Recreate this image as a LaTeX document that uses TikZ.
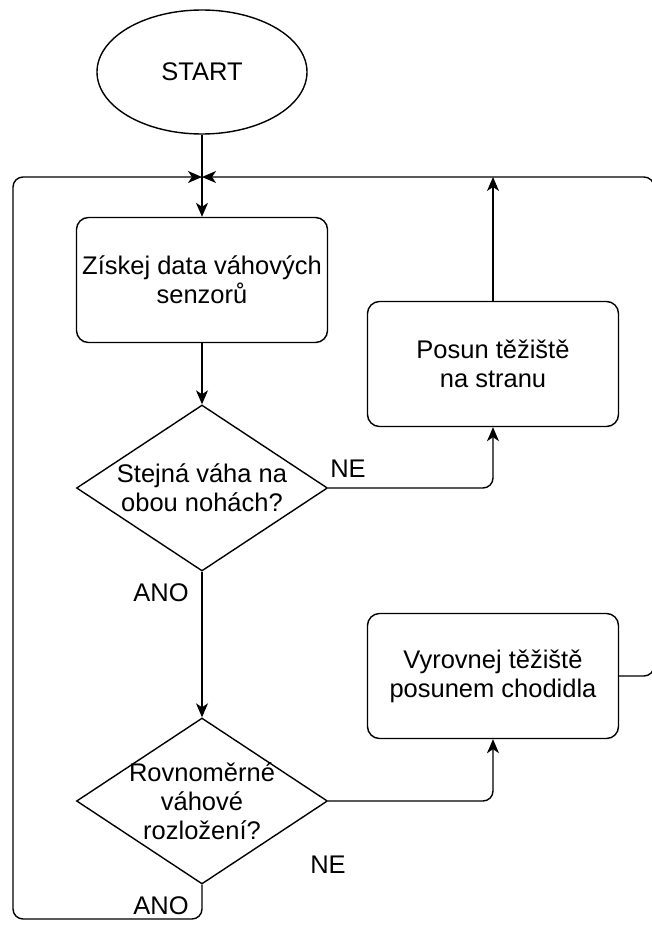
\documentclass[tikz,border=0pt]{standalone}
\usepackage{fontspec}
\setmainfont{Liberation Sans}
\usetikzlibrary{shapes.geometric,arrows.meta}
\begin{document}
\begin{tikzpicture}[x=1pt,y=-1pt,
  every node/.style={font=\fontsize{25.5}{29}\selectfont, align=center, inner sep=0pt},
  flow/.style={line width=1.4pt, rounded corners=10pt},
  arr/.style={flow, -{Stealth[length=14pt,width=12pt,inset=4pt]}},
  terminal/.style={draw, ellipse, line width=1.4pt, minimum width=210pt, minimum height=124pt},
  process/.style={draw, rectangle, rounded corners=12pt, line width=1.4pt, minimum width=251pt, minimum height=125pt},
  decision/.style={draw, diamond, line width=1.4pt, minimum width=251pt, minimum height=166pt},
  ]
\useasboundingbox (0,0) rectangle (651,926);

% shapes
\node[terminal] (start) at (202,72) {START};
\node[process] (get) at (202,280) {Získej data váhových\\senzorů};
\node[decision] (d1) at (202,488) {};
\node (d1t) at (d1) {Stejná váha na\\obou nohách?};
\node[process] (move) at (493,364) {Posun těžiště\\na stranu};
\node[decision] (d2) at (202,801) {};
\node (d2t) at (d2) {Rovnoměrné\\váhové\\rozložení?};
\node[process] (fix) at (493,676) {Vyrovnej těžiště\\posunem chodidla};

% branch labels
\node (ne1) at (348,469) {NE};
\node (ano1) at (161,593) {ANO};
\node (ne2) at (328,865) {NE};
\node (ano2) at (161,906) {ANO};

% loop points
\coordinate (join) at (202,177);
\coordinate (rtop) at (654,177);
\coordinate (lbot) at (13,919);

% connectors
\draw[arr] (start.south) -- (get.north);
\draw[arr] (get.south) -- (d1.north);
\draw[arr] (d1.east) -| (move.south);
\draw[arr] (move.north) -- (move.north |- join);
\draw[arr] (d1.south) -- (d2.north);
\draw[arr] (d2.east) -| (fix.south);
\draw[arr] (fix.east) -| (rtop) -- (join);
\draw[arr] (d2.south) |- (lbot) |- (join);
\end{tikzpicture}
\end{document}
